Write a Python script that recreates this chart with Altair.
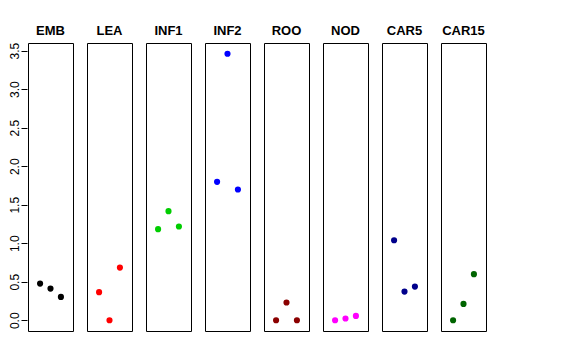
import altair as alt
import pandas as pd

tissues = ["EMB", "LEA", "INF1", "INF2", "ROO", "NOD", "CAR5", "CAR15"]
colors = ["#000000", "#FF0000", "#00CD00", "#0000FF", "#8B0000", "#FF00FF", "#00008B", "#006400"]
replicate = [1, 2, 3]
emb = [0.476, 0.411, 0.303]
lea = [0.364, 0.0, 0.684]
inf1 = [1.182, 1.416, 1.217]
inf2 = [1.797, 3.460, 1.698]
roo = [0.0, 0.230, 0.0]
nod = [0.0, 0.022, 0.056]
car5 = [1.039, 0.372, 0.437]
car15 = [0.0, 0.212, 0.598]
y_ticks = [0.0, 0.5, 1.0, 1.5, 2.0, 2.5, 3.0, 3.5]

series = [emb, lea, inf1, inf2, roo, nod, car5, car15]
rows = []
for t, vals in zip(tissues, series):
    for r, v in zip(replicate, vals):
        rows.append({"tissue": t, "rep": r, "value": v})
df = pd.DataFrame(rows)

font = "Liberation Sans"

base = alt.Chart(df).mark_circle(size=38, opacity=1).encode(
    x=alt.X("rep:Q", scale=alt.Scale(domain=[-0.16, 4.16], nice=False, zero=False), axis=None),
    y=alt.Y(
        "value:Q",
        scale=alt.Scale(domain=[-0.14, 3.6], nice=False, zero=False),
        axis=alt.Axis(
            values=y_ticks, format=".1f", labelAngle=270, tickSize=6, domain=False,
            grid=False, title=None, labelFontSize=12, labelFont=font, labelColor="black",
            tickColor="black", labelPadding=0,
        ),
    ),
    color=alt.Color("tissue:N", scale=alt.Scale(domain=tissues, range=colors), legend=None),
).properties(width=45, height=288)

chart = base.facet(
    column=alt.Column(
        "tissue:N", sort=tissues,
        header=alt.Header(title=None, labelFontWeight="bold", labelFontSize=13,
                          labelFont=font, labelColor="black", labelPadding=4),
    )
).configure_facet(spacing=12).configure_view(stroke="black", strokeWidth=1).properties(
    padding={"left": 0, "top": 17, "right": 5, "bottom": 5}
)

chart.save("out.html", embed_options={"renderer": "svg", "actions": False})
